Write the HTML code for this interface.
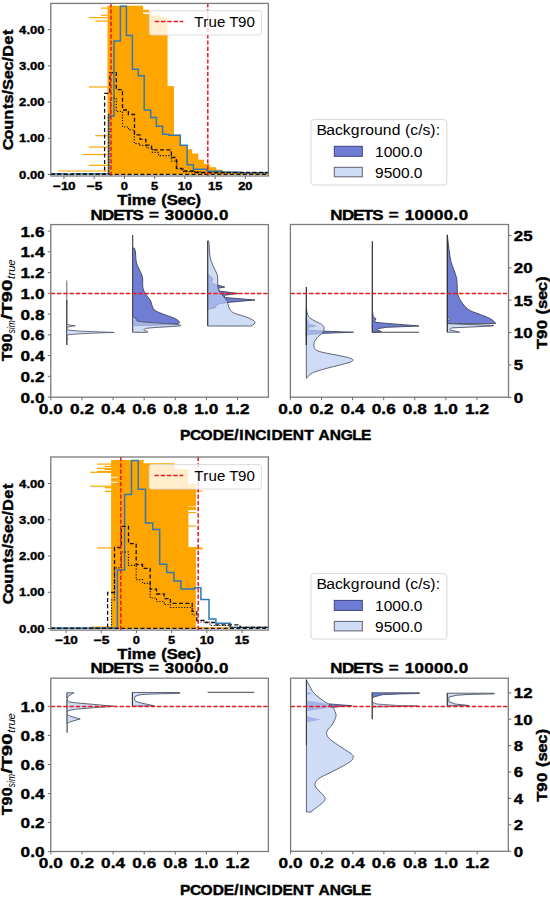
<!DOCTYPE html>
<html><head><meta charset="utf-8"><style>
html,body{margin:0;padding:0;background:#fff;}
svg{display:block;}
text{font-family:"Liberation Sans",sans-serif;}
</style></head><body>
<svg width="550" height="898" viewBox="0 0 550 898">
<rect x="0" y="0" width="550" height="898" fill="#fff"/>
<g id="h1">
<path d="M107.50,174.80 L107.50,5.80 L143.10,5.80 L143.10,9.80 L149.20,9.80 L149.20,15.50 L161.00,15.50 L161.00,17.20 L167.60,17.20 L167.60,86.00 L174.00,86.00 L174.00,134.50 L180.30,134.50 L180.30,145.00 L186.80,145.00 L186.80,149.20 L192.20,149.20 L192.20,153.60 L198.30,153.60 L198.30,159.80 L204.00,159.80 L204.00,164.00 L209.70,164.00 L209.70,167.20 L216.30,167.20 L216.30,169.70 L222.00,169.70 L222.00,171.30 L228.00,171.30 L228.00,172.30 L240.00,172.30 L240.00,173.30 L268.40,173.30 L268.40,174.80 Z" fill="#ffa500" stroke="none" stroke-width="1"/>
<rect x="143.10" y="12.40" width="6.10" height="1.60" fill="#fff"/>
<line x1="101.00" y1="8.10" x2="107.60" y2="8.10" stroke="#ffa500" stroke-width="1.2"/>
<line x1="101.00" y1="15.30" x2="107.60" y2="15.30" stroke="#ffa500" stroke-width="1.2"/>
<line x1="89.20" y1="17.60" x2="107.60" y2="17.60" stroke="#ffa500" stroke-width="1.2"/>
<line x1="95.40" y1="21.10" x2="107.60" y2="21.10" stroke="#ffa500" stroke-width="1.2"/>
<line x1="88.80" y1="87.00" x2="107.60" y2="87.00" stroke="#ffa500" stroke-width="1.2"/>
<line x1="95.20" y1="135.70" x2="107.60" y2="135.70" stroke="#ffa500" stroke-width="1.2"/>
<line x1="88.80" y1="147.10" x2="107.60" y2="147.10" stroke="#ffa500" stroke-width="1.2"/>
<line x1="82.80" y1="154.50" x2="107.60" y2="154.50" stroke="#ffa500" stroke-width="1.2"/>
<line x1="88.80" y1="165.30" x2="107.60" y2="165.30" stroke="#ffa500" stroke-width="1.2"/>
<line x1="58.30" y1="171.00" x2="107.60" y2="171.00" stroke="#ffa500" stroke-width="1.2"/>
<path d="M50.80,173.80 L66.50,173.80 L66.50,174.60 L72.30,174.60 L72.30,173.80 L108.60,173.80 L108.60,116.00 L114.00,116.00 L114.00,40.90 L120.40,40.90 L120.40,6.30 L126.40,6.30 L126.40,35.60 L132.40,35.60 L132.40,69.20 L138.30,69.20 L138.30,75.80 L144.20,75.80 L144.20,110.00 L150.70,110.00 L150.70,117.50 L156.40,117.50 L156.40,126.20 L162.60,126.20 L162.60,134.30 L168.80,134.30 L168.80,135.30 L180.30,135.30 L180.30,145.20 L187.10,145.20 L187.10,164.70 L193.40,164.70 L193.40,169.30 L207.30,169.30 L207.30,171.30 L222.00,171.30 L222.00,172.30 L240.00,172.30 L240.00,172.80 L268.40,172.80" fill="none" stroke="#2f7ab3" stroke-width="1.5" stroke-linejoin="miter"/>
<path d="M50.80,174.20 L104.60,174.20 L104.60,93.40 L109.90,93.40 L109.90,72.60 L116.30,72.60 L116.30,89.60 L122.50,89.60 L122.50,110.00 L128.40,110.00 L128.40,114.50 L134.50,114.50 L134.50,134.90 L140.00,134.90 L140.00,139.30 L145.80,139.30 L145.80,145.10 L151.60,145.10 L151.60,149.80 L171.30,149.80 L171.30,157.50 L176.40,157.50 L176.40,168.40 L182.00,168.40 L182.00,171.00 L195.00,171.00 L195.00,172.50 L268.40,172.50" fill="none" stroke="#111" stroke-width="1.3" stroke-dasharray="4 2.4"/>
<path d="M108.80,174.20 L108.80,114.40 L110.50,114.40 L110.50,98.00 L116.30,98.00 L116.30,111.50 L122.50,111.50 L122.50,127.00 L128.50,127.00 L128.50,129.80 L134.30,129.80 L134.30,143.60 L140.00,143.60 L140.00,145.30 L146.60,145.30 L146.60,148.00 L152.40,148.00 L152.40,152.40 L158.50,152.40 L158.50,155.60 L171.30,155.60 L171.30,161.00 L177.00,161.00 L177.00,169.00 L183.00,169.00 L183.00,171.60 L200.00,171.60 L200.00,173.00 L268.40,173.00" fill="none" stroke="#111" stroke-width="1.2" stroke-dasharray="1.2 1.6"/>
<line x1="50.80" y1="174.40" x2="268.40" y2="174.40" stroke="#111" stroke-width="1.3" stroke-dasharray="4 2.4"/>
<line x1="111.00" y1="176.00" x2="111.00" y2="3.40" stroke="#f0141e" stroke-width="1.5" stroke-dasharray="4.35 1.9"/>
<line x1="207.80" y1="176.00" x2="207.80" y2="3.40" stroke="#f0141e" stroke-width="1.5" stroke-dasharray="4.35 1.9"/>
<rect x="149.4" y="10.7" width="112.2" height="24.2" rx="2.5" fill="#fff" fill-opacity="0.8" stroke="#d8d8d8" stroke-width="0.9"/>
<line x1="154.80" y1="21.60" x2="183.30" y2="21.60" stroke="#f0141e" stroke-width="1.5" stroke-dasharray="4.35 1.9"/>
<text transform="translate(194.70,26.70) scale(1.0456,1)" x="-0.46 8.13 13.26 21.31 29.34 32.93 41.36 49.56" y="0" font-size="14.41" font-weight="normal" fill="#000">True T90</text>
</g>
<rect x="50.80" y="3.40" width="217.60" height="172.60" fill="none" stroke="#7b7b7b" stroke-width="1.3"/>
<line x1="63.96" y1="176.00" x2="63.96" y2="179.00" stroke="#6a6a6a" stroke-width="1"/>
<text transform="translate(63.96,190.40) scale(1.2407,1)" x="-8.96 -2.45 3.33" y="0" font-size="10.91" font-weight="bold" fill="#000" stroke="#000" stroke-width="0.363">−10</text>
<line x1="94.20" y1="176.00" x2="94.20" y2="179.00" stroke="#6a6a6a" stroke-width="1"/>
<text transform="translate(94.20,190.40) scale(1.2698,1)" x="-6.01 0.36" y="0" font-size="10.91" font-weight="bold" fill="#000" stroke="#000" stroke-width="0.354">−5</text>
<line x1="124.43" y1="176.00" x2="124.43" y2="179.00" stroke="#6a6a6a" stroke-width="1"/>
<text transform="translate(124.43,190.40) scale(1.1811,1)" x="-3.03" y="0" font-size="10.91" font-weight="bold" fill="#000" stroke="#000" stroke-width="0.381">0</text>
<line x1="154.67" y1="176.00" x2="154.67" y2="179.00" stroke="#6a6a6a" stroke-width="1"/>
<text transform="translate(154.67,190.40) scale(1.1811,1)" x="-3.03" y="0" font-size="10.91" font-weight="bold" fill="#000" stroke="#000" stroke-width="0.381">5</text>
<line x1="184.90" y1="176.00" x2="184.90" y2="179.00" stroke="#6a6a6a" stroke-width="1"/>
<text transform="translate(184.90,190.40) scale(1.1811,1)" x="-6.07 0.00" y="0" font-size="10.91" font-weight="bold" fill="#000" stroke="#000" stroke-width="0.381">10</text>
<line x1="215.13" y1="176.00" x2="215.13" y2="179.00" stroke="#6a6a6a" stroke-width="1"/>
<text transform="translate(215.13,190.40) scale(1.1811,1)" x="-6.07 0.00" y="0" font-size="10.91" font-weight="bold" fill="#000" stroke="#000" stroke-width="0.381">15</text>
<line x1="245.37" y1="176.00" x2="245.37" y2="179.00" stroke="#6a6a6a" stroke-width="1"/>
<text transform="translate(245.37,190.40) scale(1.1811,1)" x="-6.07 0.00" y="0" font-size="10.91" font-weight="bold" fill="#000" stroke="#000" stroke-width="0.381">20</text>
<line x1="47.80" y1="174.45" x2="50.80" y2="174.45" stroke="#6a6a6a" stroke-width="1"/>
<text transform="translate(44.50,178.65) scale(1.1972,1)" x="-21.28 -15.13 -12.02 -6.03" y="0" font-size="10.91" font-weight="bold" fill="#000" stroke="#000" stroke-width="0.376">0.00</text>
<line x1="47.80" y1="138.25" x2="50.80" y2="138.25" stroke="#6a6a6a" stroke-width="1"/>
<text transform="translate(44.50,142.45) scale(1.1972,1)" x="-21.28 -15.13 -12.02 -6.03" y="0" font-size="10.91" font-weight="bold" fill="#000" stroke="#000" stroke-width="0.376">1.00</text>
<line x1="47.80" y1="102.05" x2="50.80" y2="102.05" stroke="#6a6a6a" stroke-width="1"/>
<text transform="translate(44.50,106.25) scale(1.1972,1)" x="-21.28 -15.13 -12.02 -6.03" y="0" font-size="10.91" font-weight="bold" fill="#000" stroke="#000" stroke-width="0.376">2.00</text>
<line x1="47.80" y1="65.85" x2="50.80" y2="65.85" stroke="#6a6a6a" stroke-width="1"/>
<text transform="translate(44.50,70.05) scale(1.1972,1)" x="-21.28 -15.13 -12.02 -6.03" y="0" font-size="10.91" font-weight="bold" fill="#000" stroke="#000" stroke-width="0.376">3.00</text>
<line x1="47.80" y1="29.65" x2="50.80" y2="29.65" stroke="#6a6a6a" stroke-width="1"/>
<text transform="translate(44.50,33.85) scale(1.1972,1)" x="-21.28 -15.13 -12.02 -6.03" y="0" font-size="10.91" font-weight="bold" fill="#000" stroke="#000" stroke-width="0.376">4.00</text>
<text transform="translate(159.60,205.00) scale(1.1233,1)" x="-37.66 -28.80 -24.70 -11.52 -3.06 1.55 6.41 15.94 23.86 32.06" y="0" font-size="14.83" font-weight="bold" fill="#000" stroke="#000" stroke-width="0.401">Time (Sec)</text>
<text transform="translate(12.80,89.20) rotate(-90) scale(1.1014,1)" x="-55.51 -45.65 -36.76 -27.71 -18.08 -12.92 -4.76 -0.75 8.96 17.04 25.19 29.49 40.30 49.31" y="0" font-size="14.83" font-weight="bold" fill="#000" stroke="#000" stroke-width="0.409">Counts/Sec/Det</text>
<g id="h2">
<path d="M90.70,628.90 L90.70,626.60 L111.10,626.60 L111.10,460.10 L143.60,460.10 L143.60,463.20 L174.50,463.20 L174.50,469.00 L188.40,469.00 L188.40,484.00 L195.90,484.00 L195.90,628.90 Z" fill="#ffa500" stroke="none" stroke-width="1"/>
<rect x="188.40" y="510.00" width="7.60" height="37.00" fill="#fff"/>
<line x1="188.40" y1="512.50" x2="195.90" y2="512.50" stroke="#ffa500" stroke-width="1.2"/>
<line x1="188.40" y1="526.00" x2="195.90" y2="526.00" stroke="#ffa500" stroke-width="1.2"/>
<line x1="111.10" y1="477.30" x2="118.00" y2="477.30" stroke="#ffe9c0" stroke-width="1.2"/>
<line x1="195.90" y1="491.10" x2="202.70" y2="491.10" stroke="#ffa500" stroke-width="1.0"/>
<line x1="195.90" y1="548.50" x2="202.70" y2="548.50" stroke="#ffa500" stroke-width="2.0"/>
<line x1="188.40" y1="506.40" x2="195.90" y2="506.40" stroke="#ffd98a" stroke-width="1.0"/>
<line x1="111.10" y1="482.30" x2="118.00" y2="482.30" stroke="#ffe9c0" stroke-width="1.2"/>
<line x1="97.10" y1="464.10" x2="111.20" y2="464.10" stroke="#ffa500" stroke-width="1.2"/>
<line x1="104.50" y1="466.40" x2="111.20" y2="466.40" stroke="#ffa500" stroke-width="1.2"/>
<line x1="97.10" y1="468.40" x2="111.20" y2="468.40" stroke="#ffa500" stroke-width="1.2"/>
<line x1="104.50" y1="469.40" x2="111.20" y2="469.40" stroke="#ffa500" stroke-width="1.2"/>
<line x1="97.10" y1="471.40" x2="111.20" y2="471.40" stroke="#ffa500" stroke-width="1.2"/>
<line x1="90.20" y1="472.30" x2="111.20" y2="472.30" stroke="#ffa500" stroke-width="1.2"/>
<line x1="90.20" y1="486.20" x2="111.20" y2="486.20" stroke="#ffa500" stroke-width="1.2"/>
<line x1="104.50" y1="487.70" x2="111.20" y2="487.70" stroke="#ffa500" stroke-width="1.2"/>
<line x1="104.50" y1="491.40" x2="111.20" y2="491.40" stroke="#ffa500" stroke-width="1.2"/>
<line x1="96.80" y1="547.90" x2="111.20" y2="547.90" stroke="#ffa500" stroke-width="1.2"/>
<path d="M50.80,628.00 L117.40,628.00 L117.40,569.90 L124.60,569.90 L124.60,494.60 L131.50,494.60 L131.50,460.40 L138.20,460.40 L138.20,489.20 L145.50,489.20 L145.50,522.90 L152.70,522.90 L152.70,529.60 L159.70,529.60 L159.70,564.30 L166.70,564.30 L166.70,572.50 L173.90,572.50 L173.90,580.90 L181.00,580.90 L181.00,589.00 L194.50,589.00 L194.50,587.80 L200.90,587.80 L200.90,599.40 L209.00,599.40 L209.00,619.10 L215.90,619.10 L215.90,623.20 L230.40,623.20 L230.40,627.60 L268.40,627.60" fill="none" stroke="#2f7ab3" stroke-width="1.5"/>
<path d="M50.80,628.30 L107.60,628.30 L107.60,592.50 L114.50,592.50 L114.50,547.50 L121.30,547.50 L121.30,526.30 L128.50,526.30 L128.50,543.70 L136.20,543.70 L136.20,564.50 L142.50,564.50 L142.50,568.30 L150.20,568.30 L150.20,589.20 L156.50,589.20 L156.50,594.00 L164.20,594.00 L164.20,598.60 L170.40,598.60 L170.40,603.30 L192.20,603.30 L192.20,611.40 L196.80,611.40 L196.80,620.40 L204.00,620.40 L204.00,622.50 L215.00,622.50 L215.00,624.80 L240.00,624.80 L240.00,627.40 L268.40,627.40" fill="none" stroke="#111" stroke-width="1.3" stroke-dasharray="4 2.4"/>
<path d="M111.50,628.30 L111.50,600.00 L114.50,600.00 L114.50,567.90 L121.30,567.90 L121.30,552.00 L128.50,552.00 L128.50,565.40 L136.20,565.40 L136.20,579.70 L142.50,579.70 L142.50,583.30 L150.20,583.30 L150.20,598.00 L156.50,598.00 L156.50,601.50 L164.20,601.50 L164.20,604.50 L170.40,604.50 L170.40,607.50 L192.20,607.50 L192.20,615.00 L196.80,615.00 L196.80,622.00 L210.00,622.00 L210.00,625.50 L230.00,625.50 L230.00,627.30 L268.40,627.30" fill="none" stroke="#111" stroke-width="1.2" stroke-dasharray="1.2 1.6"/>
<line x1="196.00" y1="627.90" x2="230.00" y2="627.90" stroke="#ffa500" stroke-width="1.5"/>
<line x1="50.80" y1="628.40" x2="268.40" y2="628.40" stroke="#111" stroke-width="1.3" stroke-dasharray="4 2.4"/>
<line x1="120.80" y1="630.10" x2="120.80" y2="457.00" stroke="#f0141e" stroke-width="1.5" stroke-dasharray="4.35 1.9"/>
<line x1="198.20" y1="630.10" x2="198.20" y2="457.00" stroke="#f0141e" stroke-width="1.5" stroke-dasharray="4.35 1.9"/>
<rect x="149.2" y="464.6" width="112.2" height="24.4" rx="2.5" fill="#fff" fill-opacity="0.8" stroke="#d8d8d8" stroke-width="0.9"/>
<line x1="154.50" y1="475.50" x2="183.30" y2="475.50" stroke="#f0141e" stroke-width="1.5" stroke-dasharray="4.35 1.9"/>
<text transform="translate(194.70,480.60) scale(1.0456,1)" x="-0.46 8.13 13.26 21.31 29.34 32.93 41.36 49.56" y="0" font-size="14.41" font-weight="normal" fill="#000">True T90</text>
</g>
<rect x="50.80" y="457.00" width="217.60" height="173.10" fill="none" stroke="#7b7b7b" stroke-width="1.3"/>
<line x1="66.03" y1="630.10" x2="66.03" y2="633.10" stroke="#6a6a6a" stroke-width="1"/>
<text transform="translate(66.03,644.30) scale(1.2407,1)" x="-8.96 -2.45 3.33" y="0" font-size="10.91" font-weight="bold" fill="#000" stroke="#000" stroke-width="0.363">−10</text>
<line x1="101.23" y1="630.10" x2="101.23" y2="633.10" stroke="#6a6a6a" stroke-width="1"/>
<text transform="translate(101.23,644.30) scale(1.2698,1)" x="-6.01 0.36" y="0" font-size="10.91" font-weight="bold" fill="#000" stroke="#000" stroke-width="0.354">−5</text>
<line x1="136.43" y1="630.10" x2="136.43" y2="633.10" stroke="#6a6a6a" stroke-width="1"/>
<text transform="translate(136.43,644.30) scale(1.1811,1)" x="-3.03" y="0" font-size="10.91" font-weight="bold" fill="#000" stroke="#000" stroke-width="0.381">0</text>
<line x1="171.63" y1="630.10" x2="171.63" y2="633.10" stroke="#6a6a6a" stroke-width="1"/>
<text transform="translate(171.63,644.30) scale(1.1811,1)" x="-3.03" y="0" font-size="10.91" font-weight="bold" fill="#000" stroke="#000" stroke-width="0.381">5</text>
<line x1="206.83" y1="630.10" x2="206.83" y2="633.10" stroke="#6a6a6a" stroke-width="1"/>
<text transform="translate(206.83,644.30) scale(1.1811,1)" x="-6.07 0.00" y="0" font-size="10.91" font-weight="bold" fill="#000" stroke="#000" stroke-width="0.381">10</text>
<line x1="242.03" y1="630.10" x2="242.03" y2="633.10" stroke="#6a6a6a" stroke-width="1"/>
<text transform="translate(242.03,644.30) scale(1.1811,1)" x="-6.07 0.00" y="0" font-size="10.91" font-weight="bold" fill="#000" stroke="#000" stroke-width="0.381">15</text>
<line x1="47.80" y1="628.50" x2="50.80" y2="628.50" stroke="#6a6a6a" stroke-width="1"/>
<text transform="translate(44.50,632.70) scale(1.1972,1)" x="-21.28 -15.13 -12.02 -6.03" y="0" font-size="10.91" font-weight="bold" fill="#000" stroke="#000" stroke-width="0.376">0.00</text>
<line x1="47.80" y1="592.25" x2="50.80" y2="592.25" stroke="#6a6a6a" stroke-width="1"/>
<text transform="translate(44.50,596.45) scale(1.1972,1)" x="-21.28 -15.13 -12.02 -6.03" y="0" font-size="10.91" font-weight="bold" fill="#000" stroke="#000" stroke-width="0.376">1.00</text>
<line x1="47.80" y1="556.00" x2="50.80" y2="556.00" stroke="#6a6a6a" stroke-width="1"/>
<text transform="translate(44.50,560.20) scale(1.1972,1)" x="-21.28 -15.13 -12.02 -6.03" y="0" font-size="10.91" font-weight="bold" fill="#000" stroke="#000" stroke-width="0.376">2.00</text>
<line x1="47.80" y1="519.75" x2="50.80" y2="519.75" stroke="#6a6a6a" stroke-width="1"/>
<text transform="translate(44.50,523.95) scale(1.1972,1)" x="-21.28 -15.13 -12.02 -6.03" y="0" font-size="10.91" font-weight="bold" fill="#000" stroke="#000" stroke-width="0.376">3.00</text>
<line x1="47.80" y1="483.50" x2="50.80" y2="483.50" stroke="#6a6a6a" stroke-width="1"/>
<text transform="translate(44.50,487.70) scale(1.1972,1)" x="-21.28 -15.13 -12.02 -6.03" y="0" font-size="10.91" font-weight="bold" fill="#000" stroke="#000" stroke-width="0.376">4.00</text>
<text transform="translate(159.60,659.30) scale(1.1233,1)" x="-37.66 -28.80 -24.70 -11.52 -3.06 1.55 6.41 15.94 23.86 32.06" y="0" font-size="14.83" font-weight="bold" fill="#000" stroke="#000" stroke-width="0.401">Time (Sec)</text>
<text transform="translate(12.80,543.20) rotate(-90) scale(1.1014,1)" x="-55.51 -45.65 -36.76 -27.71 -18.08 -12.92 -4.76 -0.75 8.96 17.04 25.19 29.49 40.30 49.31" y="0" font-size="14.83" font-weight="bold" fill="#000" stroke="#000" stroke-width="0.409">Counts/Sec/Det</text>
<rect x="311" y="119.60" width="135.9" height="65.4" rx="3" fill="#fff" stroke="#d8d8d8" stroke-width="1"/>
<text transform="translate(316.90,135.10) scale(1.0607,1)" x="-0.43 8.94 17.01 24.44 32.01 40.55 45.63 53.83 62.17 70.52 78.86 83.11 88.06 95.54 99.54 106.78 111.97" y="0" font-size="14.83" font-weight="normal" fill="#000">Background (c/s):</text>
<rect x="334.3" y="146.30" width="28" height="10" fill="#6f7dd5" stroke="#3c4380" stroke-width="1"/>
<rect x="334.3" y="167.30" width="28" height="9.5" fill="#cfdcf5" stroke="#606070" stroke-width="1"/>
<text transform="translate(375.00,157.10) scale(1.0469,1)" x="-0.00 8.25 16.50 24.75 33.00 37.12" y="0" font-size="14.83" font-weight="normal" fill="#000">1000.0</text>
<text transform="translate(375.00,177.50) scale(1.0469,1)" x="-0.00 8.25 16.50 24.75 33.00 37.12" y="0" font-size="14.83" font-weight="normal" fill="#000">9500.0</text>
<rect x="311" y="573.70" width="135.9" height="65.4" rx="3" fill="#fff" stroke="#d8d8d8" stroke-width="1"/>
<text transform="translate(316.90,589.20) scale(1.0607,1)" x="-0.43 8.94 17.01 24.44 32.01 40.55 45.63 53.83 62.17 70.52 78.86 83.11 88.06 95.54 99.54 106.78 111.97" y="0" font-size="14.83" font-weight="normal" fill="#000">Background (c/s):</text>
<rect x="334.3" y="600.40" width="28" height="10" fill="#6f7dd5" stroke="#3c4380" stroke-width="1"/>
<rect x="334.3" y="621.40" width="28" height="9.5" fill="#cfdcf5" stroke="#606070" stroke-width="1"/>
<text transform="translate(375.00,611.20) scale(1.0469,1)" x="-0.00 8.25 16.50 24.75 33.00 37.12" y="0" font-size="14.83" font-weight="normal" fill="#000">1000.0</text>
<text transform="translate(375.00,631.60) scale(1.0469,1)" x="-0.00 8.25 16.50 24.75 33.00 37.12" y="0" font-size="14.83" font-weight="normal" fill="#000">9500.0</text>
<g id="b1">
<line x1="66.80" y1="280.40" x2="66.80" y2="300.00" stroke="#6a6a6a" stroke-width="1.0"/>
<line x1="66.80" y1="300.00" x2="66.80" y2="345.10" stroke="#333" stroke-width="1.3"/>
<path d="M66.80,324.30 L70.00,325.10 L75.30,325.80 L70.00,326.50 L66.80,327.40 Z" fill="#cfdcf5" stroke="#4f5566" stroke-width="0.8" stroke-linejoin="round"/>
<path d="M66.80,329.40 L69.00,330.20 L80.00,331.10 L100.00,331.90 L114.20,332.40 L100.00,332.90 L80.00,333.80 L69.00,334.70 L66.80,335.30 Z" fill="#cfdcf5" stroke="#4f5566" stroke-width="0.8" stroke-linejoin="round"/>
<path d="M66.80,337.40 L68.20,338.70 L66.80,340.20 Z" fill="#cfdcf5" stroke="#4f5566" stroke-width="0.7" stroke-linejoin="round"/>
<line x1="132.70" y1="234.90" x2="132.70" y2="332.20" stroke="#3a3a3a" stroke-width="1.1"/>
<path d="M132.70,248.10 C133.00,248.15 134.05,247.75 134.50,248.40 C134.95,249.05 135.10,249.77 135.40,252.00 C135.70,254.23 135.78,259.13 136.30,261.80 C136.82,264.47 137.63,265.95 138.50,268.00 C139.37,270.05 140.80,272.27 141.50,274.10 C142.20,275.93 142.50,276.97 142.70,279.00 C142.90,281.03 142.48,284.27 142.70,286.30 C142.92,288.33 143.18,289.47 144.00,291.20 C144.82,292.93 146.48,295.07 147.60,296.70 C148.72,298.33 149.88,299.27 150.70,301.00 C151.52,302.73 151.68,305.47 152.50,307.10 C153.32,308.73 153.65,309.57 155.60,310.80 C157.55,312.03 161.13,313.28 164.20,314.50 C167.27,315.72 171.55,316.98 174.00,318.10 C176.45,319.22 178.08,320.38 178.90,321.20 C179.72,322.02 179.72,322.48 178.90,323.00 C178.08,323.52 177.15,323.97 174.00,324.30 C170.85,324.63 165.67,324.82 160.00,325.00 C154.33,325.18 144.55,325.32 140.00,325.40 C135.45,325.48 133.92,325.48 132.70,325.50 Z" fill="#6f7dd5" stroke="#3d4150" stroke-width="0.9" stroke-linejoin="round"/>
<path d="M132.70,315.70 C132.85,315.90 132.95,316.28 133.60,316.90 C134.25,317.52 135.88,318.68 136.60,319.40 C137.32,320.12 135.67,320.68 137.90,321.20 C140.13,321.72 144.65,322.07 150.00,322.50 C155.35,322.93 165.08,323.40 170.00,323.80 C174.92,324.20 178.23,324.52 179.50,324.90 C180.77,325.28 182.60,325.58 177.60,326.10 C172.60,326.62 155.10,327.38 149.50,328.00 C143.90,328.62 144.32,329.10 144.00,329.80 C143.68,330.50 149.48,331.80 147.60,332.20 C145.72,332.60 135.18,332.20 132.70,332.20 Z" fill="#bacdf1" stroke="#4f5566" stroke-width="0.9" fill-opacity="0.7" stroke-linejoin="round"/>
<path d="M207.70,274.00 L213.00,278.70 L211.20,282.30 L214.50,284.60 L217.70,285.20 L224.80,287.00 L218.30,288.20 L219.50,291.10 L238.40,293.50 L223.60,295.30 L225.40,297.60 L255.00,300.00 L227.80,302.40 L220.00,303.50 L215.40,305.90 L216.00,307.50 L207.70,309.50 Z" fill="#6f7dd5" stroke="#3d4150" stroke-width="0.9" stroke-linejoin="round"/>
<path d="M207.70,240.90 C207.90,241.10 208.52,239.53 208.90,242.10 C209.28,244.67 209.32,252.37 210.00,256.30 C210.68,260.23 211.92,262.95 213.00,265.70 C214.08,268.45 215.72,270.82 216.50,272.80 C217.28,274.78 217.50,275.63 217.70,277.60 C217.90,279.57 217.60,282.73 217.70,284.60 C217.80,286.47 218.00,287.62 218.30,288.80 C218.60,289.98 218.80,290.62 219.50,291.70 C220.20,292.78 221.52,294.12 222.50,295.30 C223.48,296.48 224.58,297.72 225.40,298.80 C226.22,299.88 226.90,300.62 227.40,301.80 C227.90,302.98 227.85,304.42 228.40,305.90 C228.95,307.38 229.52,309.42 230.70,310.70 C231.88,311.98 233.13,312.62 235.50,313.60 C237.87,314.58 242.15,315.62 244.90,316.60 C247.65,317.58 250.32,318.52 252.00,319.50 C253.68,320.48 255.00,321.52 255.00,322.50 C255.00,323.48 253.28,324.82 252.00,325.40 C250.72,325.98 254.68,325.90 247.30,326.00 C239.92,326.10 214.30,326.00 207.70,326.00 Z" fill="#bacdf1" stroke="#4f5566" stroke-width="0.9" fill-opacity="0.7" stroke-linejoin="round"/>
<line x1="207.70" y1="240.90" x2="207.70" y2="326.00" stroke="#3a3a3a" stroke-width="1.0"/>
</g>
<g id="b2">
<path d="M306.30,318.00 L309.00,324.50 L315.70,325.80 L309.00,327.20 L307.50,330.00 L322.20,331.10 L353.60,332.20 L322.20,333.40 L307.50,334.50 L306.30,337.00 Z" fill="#6f7dd5" stroke="#3d4150" stroke-width="0.8" stroke-linejoin="round"/>
<path d="M306.30,308.40 C306.50,309.38 306.92,312.73 307.50,314.30 C308.08,315.87 308.43,316.62 309.80,317.80 C311.17,318.98 313.73,320.32 315.70,321.40 C317.67,322.48 320.22,323.32 321.60,324.30 C322.98,325.28 323.63,326.32 324.00,327.30 C324.37,328.28 324.10,329.22 323.80,330.20 C323.50,331.18 323.15,332.12 322.20,333.20 C321.25,334.28 319.38,335.32 318.10,336.70 C316.82,338.08 315.18,339.92 314.50,341.50 C313.82,343.08 313.80,344.83 314.00,346.20 C314.20,347.57 314.43,348.72 315.70,349.70 C316.97,350.68 318.63,351.30 321.60,352.10 C324.57,352.90 329.17,353.62 333.50,354.50 C337.83,355.38 344.35,356.52 347.60,357.40 C350.85,358.28 352.60,359.00 353.00,359.80 C353.40,360.60 352.27,361.32 350.00,362.20 C347.73,363.08 343.13,364.12 339.40,365.10 C335.67,366.08 331.55,367.02 327.60,368.10 C323.65,369.18 318.67,370.52 315.70,371.60 C312.73,372.68 311.27,373.52 309.80,374.60 C308.33,375.68 307.48,377.52 306.90,378.10 C306.32,378.68 306.40,378.10 306.30,378.10 Z" fill="#bacdf1" stroke="#4f5566" stroke-width="0.9" fill-opacity="0.7" stroke-linejoin="round"/>
<line x1="306.30" y1="287.10" x2="306.30" y2="345.00" stroke="#2a2a2a" stroke-width="1.2"/>
<line x1="372.30" y1="241.20" x2="372.30" y2="332.50" stroke="#2a2a2a" stroke-width="1.2"/>
<line x1="372.30" y1="332.30" x2="419.00" y2="332.30" stroke="#444" stroke-width="1.1"/>
<path d="M372.40,310.90 L373.20,316.40 L375.90,319.10 L374.80,320.70 L375.90,322.40 L386.80,323.40 L419.00,326.00 L386.80,327.30 L378.10,328.60 L377.00,329.70 L381.40,331.60 L372.40,332.30 Z" fill="#6f7dd5" stroke="#3d4150" stroke-width="0.9" stroke-linejoin="round"/>
<path d="M447.30,234.90 C447.42,235.92 447.68,238.35 448.00,241.00 C448.32,243.65 448.70,247.33 449.20,250.80 C449.70,254.27 450.18,258.53 451.00,261.80 C451.82,265.07 453.18,267.75 454.10,270.40 C455.02,273.05 456.00,275.45 456.50,277.70 C457.00,279.95 456.90,281.23 457.10,283.90 C457.30,286.57 457.18,291.05 457.70,293.70 C458.22,296.35 459.07,297.77 460.20,299.80 C461.33,301.83 462.77,304.07 464.50,305.90 C466.23,307.73 467.95,309.37 470.60,310.80 C473.25,312.23 477.33,313.28 480.40,314.50 C483.47,315.72 486.87,317.08 489.00,318.10 C491.13,319.12 492.38,319.88 493.20,320.60 C494.02,321.32 494.10,321.90 493.90,322.40 C493.70,322.90 499.77,323.40 492.00,323.60 C484.23,323.80 454.75,323.60 447.30,323.60 Z" fill="#6f7dd5" stroke="#3d4150" stroke-width="0.9" stroke-linejoin="round"/>
<path d="M447.30,317.50 L450.50,318.50 L451.00,319.50 L447.30,320.60 Z" fill="#bacdf1" stroke="#4f5566" stroke-width="0.6" fill-opacity="0.7" stroke-linejoin="round"/>
<path d="M447.30,323.60 L493.90,325.50 L491.40,326.10 L451.50,327.90 L449.70,329.80 L459.60,332.20 L447.30,332.20 Z" fill="#bacdf1" stroke="#4f5566" stroke-width="0.9" fill-opacity="0.7" stroke-linejoin="round"/>
<line x1="447.30" y1="234.90" x2="447.30" y2="332.20" stroke="#2a2a2a" stroke-width="1.0"/>
</g>
<g id="c1">
<line x1="67.10" y1="692.60" x2="67.10" y2="732.70" stroke="#3a3a3a" stroke-width="1.1"/>
<path d="M67.10,692.80 L74.00,692.80 L71.00,694.50 L68.20,696.40 L67.10,698.00 Z" fill="#cfdcf5" stroke="#4f5566" stroke-width="0.9" stroke-linejoin="round"/>
<path d="M67.10,700.20 L68.70,701.80 L76.40,702.90 L92.70,704.30 L113.40,706.20 L92.70,707.80 L76.40,709.10 L68.70,710.50 L67.10,712.20 Z" fill="#cfdcf5" stroke="#4f5566" stroke-width="0.9" stroke-linejoin="round"/>
<path d="M67.10,714.40 L69.80,716.00 L75.00,717.60 L80.20,719.00 L75.00,720.40 L69.80,722.00 L67.10,723.60 Z" fill="#cfdcf5" stroke="#4f5566" stroke-width="0.9" stroke-linejoin="round"/>
<path d="M132.40,692.50 L179.80,692.50 L179.80,693.30 L160.00,693.80 L145.00,694.30 L139.00,694.90 L135.20,696.50 L134.40,698.50 L134.60,700.20 L137.00,701.80 L142.00,703.20 L154.20,705.80 L132.40,706.20 Z" fill="#cfdcf5" stroke="#4f5566" stroke-width="0.9" stroke-linejoin="round"/>
<line x1="132.40" y1="692.30" x2="132.40" y2="706.30" stroke="#3a3a3a" stroke-width="1.0"/>
<line x1="207.60" y1="692.40" x2="254.30" y2="692.40" stroke="#6a6a6a" stroke-width="1.2"/>
</g>
<g id="c2">
<path d="M306.40,679.70 C307.00,680.87 308.70,684.42 310.00,686.70 C311.30,688.98 311.97,691.03 314.20,693.40 C316.43,695.77 320.47,698.82 323.40,700.90 C326.33,702.98 329.85,704.10 331.80,705.90 C333.75,707.70 334.42,709.88 335.10,711.70 C335.78,713.52 336.45,714.57 335.90,716.80 C335.35,719.03 333.18,722.88 331.80,725.10 C330.42,727.32 328.45,728.57 327.60,730.10 C326.75,731.63 326.28,732.77 326.70,734.30 C327.12,735.83 327.58,737.08 330.10,739.30 C332.62,741.52 338.18,745.10 341.80,747.60 C345.42,750.10 349.92,752.62 351.80,754.30 C353.68,755.98 353.38,756.45 353.10,757.70 C352.82,758.95 353.10,759.72 350.10,761.80 C347.10,763.88 340.10,767.55 335.10,770.20 C330.10,772.85 323.43,775.48 320.10,777.70 C316.77,779.92 315.67,781.70 315.10,783.50 C314.53,785.30 315.32,786.55 316.70,788.50 C318.08,790.45 322.00,793.38 323.40,795.20 C324.80,797.02 325.38,798.00 325.10,799.40 C324.82,800.80 323.93,801.65 321.70,803.60 C319.47,805.55 313.48,809.70 311.70,811.10 C309.92,812.50 311.88,811.85 311.00,812.00 C310.12,812.15 307.17,812.00 306.40,812.00 Z" fill="#bacdf1" stroke="#4f5566" stroke-width="0.9" fill-opacity="0.7" stroke-linejoin="round"/>
<path d="M306.50,692.10 C306.92,692.18 308.08,692.37 309.00,692.60 C309.92,692.83 312.00,693.20 312.00,693.50 C312.00,693.80 309.92,694.15 309.00,694.40 C308.08,694.65 306.92,694.90 306.50,695.00 Z" fill="#a3b3e8" stroke="none" stroke-width="1"/>
<path d="M306.50,700.80 C308.15,700.98 313.30,701.45 316.40,701.90 C319.50,702.35 322.93,703.08 325.10,703.50 C327.27,703.92 328.13,704.07 329.40,704.40 C330.67,704.73 332.70,705.07 332.70,705.50 C332.70,705.93 330.67,706.52 329.40,707.00 C328.13,707.48 327.27,707.98 325.10,708.40 C322.93,708.82 319.50,709.03 316.40,709.50 C313.30,709.97 308.15,710.92 306.50,711.20 Z" fill="#a3b3e8" stroke="none" stroke-width="1"/>
<path d="M306.50,715.50 C307.23,715.78 309.32,716.72 310.90,717.20 C312.48,717.68 314.37,718.03 316.00,718.40 C317.63,718.77 320.70,719.07 320.70,719.40 C320.70,719.73 317.63,720.05 316.00,720.40 C314.37,720.75 312.48,721.13 310.90,721.50 C309.32,721.87 307.23,722.42 306.50,722.60 Z" fill="#a3b3e8" stroke="none" stroke-width="1"/>
<path d="M329.40,703.90 L340.00,704.80 L352.30,705.70 L340.00,706.50 L332.70,707.30 L329.40,706.50 Z" fill="#6f7dd5" stroke="#3d4150" stroke-width="0.8" stroke-linejoin="round"/>
<line x1="306.40" y1="679.70" x2="306.40" y2="745.10" stroke="#3a3a3a" stroke-width="1.0"/>
<line x1="372.20" y1="692.60" x2="372.20" y2="719.30" stroke="#2a2a2a" stroke-width="1.2"/>
<path d="M372.20,692.80 L419.40,692.80 L419.40,693.50 L400.00,693.90 L382.40,694.70 L374.20,696.90 L372.80,698.00 Z" fill="#6f7dd5" stroke="#3d4150" stroke-width="0.8" stroke-linejoin="round"/>
<path d="M372.80,702.40 L376.90,704.00 L398.70,705.60 L418.30,706.00 L398.70,706.40 L376.90,706.80 L372.20,707.30 Z" fill="#bacdf1" stroke="#4f5566" stroke-width="0.8" fill-opacity="0.7" stroke-linejoin="round"/>
<path d="M447.30,693.20 L494.20,693.20 L494.20,693.90 L470.00,694.40 L457.00,695.20 L449.00,697.00 L448.80,701.50 L455.00,704.00 L469.10,705.50 L447.30,705.80 Z" fill="#cfdcf5" stroke="#4f5566" stroke-width="0.9" stroke-linejoin="round"/>
<line x1="447.30" y1="693.00" x2="447.30" y2="706.00" stroke="#3a3a3a" stroke-width="1.0"/>
</g>
<line x1="50.80" y1="293.40" x2="268.40" y2="293.40" stroke="#f0141e" stroke-width="1.5" stroke-dasharray="4.35 1.9"/>
<line x1="290.40" y1="293.40" x2="508.50" y2="293.40" stroke="#f0141e" stroke-width="1.5" stroke-dasharray="4.35 1.9"/>
<line x1="50.80" y1="706.40" x2="268.40" y2="706.40" stroke="#f0141e" stroke-width="1.5" stroke-dasharray="4.35 1.9"/>
<line x1="290.60" y1="706.40" x2="508.30" y2="706.40" stroke="#f0141e" stroke-width="1.5" stroke-dasharray="4.35 1.9"/>
<rect x="50.80" y="224.60" width="217.60" height="172.60" fill="none" stroke="#7b7b7b" stroke-width="1.3"/>
<rect x="290.40" y="224.50" width="218.10" height="172.70" fill="none" stroke="#7b7b7b" stroke-width="1.3"/>
<rect x="50.80" y="678.20" width="217.60" height="173.30" fill="none" stroke="#7b7b7b" stroke-width="1.3"/>
<rect x="290.60" y="678.20" width="217.70" height="173.10" fill="none" stroke="#7b7b7b" stroke-width="1.3"/>
<line x1="50.90" y1="397.20" x2="50.90" y2="400.20" stroke="#6a6a6a" stroke-width="1"/>
<text transform="translate(50.90,413.90) scale(1.2037,1)" x="-10.02 -1.99 2.06" y="0" font-size="14.30" font-weight="bold" fill="#000" stroke="#000" stroke-width="0.374">0.0</text>
<line x1="82.00" y1="397.20" x2="82.00" y2="400.20" stroke="#6a6a6a" stroke-width="1"/>
<text transform="translate(82.00,413.90) scale(1.2037,1)" x="-10.02 -1.99 2.06" y="0" font-size="14.30" font-weight="bold" fill="#000" stroke="#000" stroke-width="0.374">0.2</text>
<line x1="113.10" y1="397.20" x2="113.10" y2="400.20" stroke="#6a6a6a" stroke-width="1"/>
<text transform="translate(113.10,413.90) scale(1.2037,1)" x="-10.02 -1.99 2.06" y="0" font-size="14.30" font-weight="bold" fill="#000" stroke="#000" stroke-width="0.374">0.4</text>
<line x1="144.20" y1="397.20" x2="144.20" y2="400.20" stroke="#6a6a6a" stroke-width="1"/>
<text transform="translate(144.20,413.90) scale(1.2037,1)" x="-10.02 -1.99 2.06" y="0" font-size="14.30" font-weight="bold" fill="#000" stroke="#000" stroke-width="0.374">0.6</text>
<line x1="175.30" y1="397.20" x2="175.30" y2="400.20" stroke="#6a6a6a" stroke-width="1"/>
<text transform="translate(175.30,413.90) scale(1.2037,1)" x="-10.02 -1.99 2.06" y="0" font-size="14.30" font-weight="bold" fill="#000" stroke="#000" stroke-width="0.374">0.8</text>
<line x1="206.40" y1="397.20" x2="206.40" y2="400.20" stroke="#6a6a6a" stroke-width="1"/>
<text transform="translate(206.40,413.90) scale(1.2037,1)" x="-10.02 -1.99 2.06" y="0" font-size="14.30" font-weight="bold" fill="#000" stroke="#000" stroke-width="0.374">1.0</text>
<line x1="237.50" y1="397.20" x2="237.50" y2="400.20" stroke="#6a6a6a" stroke-width="1"/>
<text transform="translate(237.50,413.90) scale(1.2037,1)" x="-10.02 -1.99 2.06" y="0" font-size="14.30" font-weight="bold" fill="#000" stroke="#000" stroke-width="0.374">1.2</text>
<line x1="290.40" y1="397.20" x2="290.40" y2="400.20" stroke="#6a6a6a" stroke-width="1"/>
<text transform="translate(290.40,413.90) scale(1.2037,1)" x="-10.02 -1.99 2.06" y="0" font-size="14.30" font-weight="bold" fill="#000" stroke="#000" stroke-width="0.374">0.0</text>
<line x1="321.50" y1="397.20" x2="321.50" y2="400.20" stroke="#6a6a6a" stroke-width="1"/>
<text transform="translate(321.50,413.90) scale(1.2037,1)" x="-10.02 -1.99 2.06" y="0" font-size="14.30" font-weight="bold" fill="#000" stroke="#000" stroke-width="0.374">0.2</text>
<line x1="352.60" y1="397.20" x2="352.60" y2="400.20" stroke="#6a6a6a" stroke-width="1"/>
<text transform="translate(352.60,413.90) scale(1.2037,1)" x="-10.02 -1.99 2.06" y="0" font-size="14.30" font-weight="bold" fill="#000" stroke="#000" stroke-width="0.374">0.4</text>
<line x1="383.70" y1="397.20" x2="383.70" y2="400.20" stroke="#6a6a6a" stroke-width="1"/>
<text transform="translate(383.70,413.90) scale(1.2037,1)" x="-10.02 -1.99 2.06" y="0" font-size="14.30" font-weight="bold" fill="#000" stroke="#000" stroke-width="0.374">0.6</text>
<line x1="414.80" y1="397.20" x2="414.80" y2="400.20" stroke="#6a6a6a" stroke-width="1"/>
<text transform="translate(414.80,413.90) scale(1.2037,1)" x="-10.02 -1.99 2.06" y="0" font-size="14.30" font-weight="bold" fill="#000" stroke="#000" stroke-width="0.374">0.8</text>
<line x1="445.90" y1="397.20" x2="445.90" y2="400.20" stroke="#6a6a6a" stroke-width="1"/>
<text transform="translate(445.90,413.90) scale(1.2037,1)" x="-10.02 -1.99 2.06" y="0" font-size="14.30" font-weight="bold" fill="#000" stroke="#000" stroke-width="0.374">1.0</text>
<line x1="477.00" y1="397.20" x2="477.00" y2="400.20" stroke="#6a6a6a" stroke-width="1"/>
<text transform="translate(477.00,413.90) scale(1.2037,1)" x="-10.02 -1.99 2.06" y="0" font-size="14.30" font-weight="bold" fill="#000" stroke="#000" stroke-width="0.374">1.2</text>
<line x1="50.90" y1="851.50" x2="50.90" y2="854.50" stroke="#6a6a6a" stroke-width="1"/>
<text transform="translate(50.90,867.60) scale(1.2037,1)" x="-10.02 -1.99 2.06" y="0" font-size="14.30" font-weight="bold" fill="#000" stroke="#000" stroke-width="0.374">0.0</text>
<line x1="82.00" y1="851.50" x2="82.00" y2="854.50" stroke="#6a6a6a" stroke-width="1"/>
<text transform="translate(82.00,867.60) scale(1.2037,1)" x="-10.02 -1.99 2.06" y="0" font-size="14.30" font-weight="bold" fill="#000" stroke="#000" stroke-width="0.374">0.2</text>
<line x1="113.10" y1="851.50" x2="113.10" y2="854.50" stroke="#6a6a6a" stroke-width="1"/>
<text transform="translate(113.10,867.60) scale(1.2037,1)" x="-10.02 -1.99 2.06" y="0" font-size="14.30" font-weight="bold" fill="#000" stroke="#000" stroke-width="0.374">0.4</text>
<line x1="144.20" y1="851.50" x2="144.20" y2="854.50" stroke="#6a6a6a" stroke-width="1"/>
<text transform="translate(144.20,867.60) scale(1.2037,1)" x="-10.02 -1.99 2.06" y="0" font-size="14.30" font-weight="bold" fill="#000" stroke="#000" stroke-width="0.374">0.6</text>
<line x1="175.30" y1="851.50" x2="175.30" y2="854.50" stroke="#6a6a6a" stroke-width="1"/>
<text transform="translate(175.30,867.60) scale(1.2037,1)" x="-10.02 -1.99 2.06" y="0" font-size="14.30" font-weight="bold" fill="#000" stroke="#000" stroke-width="0.374">0.8</text>
<line x1="206.40" y1="851.50" x2="206.40" y2="854.50" stroke="#6a6a6a" stroke-width="1"/>
<text transform="translate(206.40,867.60) scale(1.2037,1)" x="-10.02 -1.99 2.06" y="0" font-size="14.30" font-weight="bold" fill="#000" stroke="#000" stroke-width="0.374">1.0</text>
<line x1="237.50" y1="851.50" x2="237.50" y2="854.50" stroke="#6a6a6a" stroke-width="1"/>
<text transform="translate(237.50,867.60) scale(1.2037,1)" x="-10.02 -1.99 2.06" y="0" font-size="14.30" font-weight="bold" fill="#000" stroke="#000" stroke-width="0.374">1.2</text>
<line x1="290.60" y1="851.30" x2="290.60" y2="854.30" stroke="#6a6a6a" stroke-width="1"/>
<text transform="translate(290.60,867.60) scale(1.2037,1)" x="-10.02 -1.99 2.06" y="0" font-size="14.30" font-weight="bold" fill="#000" stroke="#000" stroke-width="0.374">0.0</text>
<line x1="321.70" y1="851.30" x2="321.70" y2="854.30" stroke="#6a6a6a" stroke-width="1"/>
<text transform="translate(321.70,867.60) scale(1.2037,1)" x="-10.02 -1.99 2.06" y="0" font-size="14.30" font-weight="bold" fill="#000" stroke="#000" stroke-width="0.374">0.2</text>
<line x1="352.80" y1="851.30" x2="352.80" y2="854.30" stroke="#6a6a6a" stroke-width="1"/>
<text transform="translate(352.80,867.60) scale(1.2037,1)" x="-10.02 -1.99 2.06" y="0" font-size="14.30" font-weight="bold" fill="#000" stroke="#000" stroke-width="0.374">0.4</text>
<line x1="383.90" y1="851.30" x2="383.90" y2="854.30" stroke="#6a6a6a" stroke-width="1"/>
<text transform="translate(383.90,867.60) scale(1.2037,1)" x="-10.02 -1.99 2.06" y="0" font-size="14.30" font-weight="bold" fill="#000" stroke="#000" stroke-width="0.374">0.6</text>
<line x1="415.00" y1="851.30" x2="415.00" y2="854.30" stroke="#6a6a6a" stroke-width="1"/>
<text transform="translate(415.00,867.60) scale(1.2037,1)" x="-10.02 -1.99 2.06" y="0" font-size="14.30" font-weight="bold" fill="#000" stroke="#000" stroke-width="0.374">0.8</text>
<line x1="446.10" y1="851.30" x2="446.10" y2="854.30" stroke="#6a6a6a" stroke-width="1"/>
<text transform="translate(446.10,867.60) scale(1.2037,1)" x="-10.02 -1.99 2.06" y="0" font-size="14.30" font-weight="bold" fill="#000" stroke="#000" stroke-width="0.374">1.0</text>
<line x1="477.20" y1="851.30" x2="477.20" y2="854.30" stroke="#6a6a6a" stroke-width="1"/>
<text transform="translate(477.20,867.60) scale(1.2037,1)" x="-10.02 -1.99 2.06" y="0" font-size="14.30" font-weight="bold" fill="#000" stroke="#000" stroke-width="0.374">1.2</text>
<line x1="47.80" y1="397.10" x2="50.80" y2="397.10" stroke="#6a6a6a" stroke-width="1"/>
<text transform="translate(44.40,402.50) scale(1.2037,1)" x="-19.96 -11.93 -7.88" y="0" font-size="14.30" font-weight="bold" fill="#000" stroke="#000" stroke-width="0.374">0.0</text>
<line x1="47.80" y1="376.35" x2="50.80" y2="376.35" stroke="#6a6a6a" stroke-width="1"/>
<text transform="translate(44.40,381.75) scale(1.2037,1)" x="-19.96 -11.93 -7.88" y="0" font-size="14.30" font-weight="bold" fill="#000" stroke="#000" stroke-width="0.374">0.2</text>
<line x1="47.80" y1="355.60" x2="50.80" y2="355.60" stroke="#6a6a6a" stroke-width="1"/>
<text transform="translate(44.40,361.00) scale(1.2037,1)" x="-19.96 -11.93 -7.88" y="0" font-size="14.30" font-weight="bold" fill="#000" stroke="#000" stroke-width="0.374">0.4</text>
<line x1="47.80" y1="334.85" x2="50.80" y2="334.85" stroke="#6a6a6a" stroke-width="1"/>
<text transform="translate(44.40,340.25) scale(1.2037,1)" x="-19.96 -11.93 -7.88" y="0" font-size="14.30" font-weight="bold" fill="#000" stroke="#000" stroke-width="0.374">0.6</text>
<line x1="47.80" y1="314.10" x2="50.80" y2="314.10" stroke="#6a6a6a" stroke-width="1"/>
<text transform="translate(44.40,319.50) scale(1.2037,1)" x="-19.96 -11.93 -7.88" y="0" font-size="14.30" font-weight="bold" fill="#000" stroke="#000" stroke-width="0.374">0.8</text>
<line x1="47.80" y1="293.35" x2="50.80" y2="293.35" stroke="#6a6a6a" stroke-width="1"/>
<text transform="translate(44.40,298.75) scale(1.2037,1)" x="-19.96 -11.93 -7.88" y="0" font-size="14.30" font-weight="bold" fill="#000" stroke="#000" stroke-width="0.374">1.0</text>
<line x1="47.80" y1="272.60" x2="50.80" y2="272.60" stroke="#6a6a6a" stroke-width="1"/>
<text transform="translate(44.40,278.00) scale(1.2037,1)" x="-19.96 -11.93 -7.88" y="0" font-size="14.30" font-weight="bold" fill="#000" stroke="#000" stroke-width="0.374">1.2</text>
<line x1="47.80" y1="251.85" x2="50.80" y2="251.85" stroke="#6a6a6a" stroke-width="1"/>
<text transform="translate(44.40,257.25) scale(1.2037,1)" x="-19.96 -11.93 -7.88" y="0" font-size="14.30" font-weight="bold" fill="#000" stroke="#000" stroke-width="0.374">1.4</text>
<line x1="47.80" y1="231.10" x2="50.80" y2="231.10" stroke="#6a6a6a" stroke-width="1"/>
<text transform="translate(44.40,236.50) scale(1.2037,1)" x="-19.96 -11.93 -7.88" y="0" font-size="14.30" font-weight="bold" fill="#000" stroke="#000" stroke-width="0.374">1.6</text>
<line x1="47.80" y1="851.60" x2="50.80" y2="851.60" stroke="#6a6a6a" stroke-width="1"/>
<text transform="translate(44.50,857.00) scale(1.2037,1)" x="-19.96 -11.93 -7.88" y="0" font-size="14.30" font-weight="bold" fill="#000" stroke="#000" stroke-width="0.374">0.0</text>
<line x1="47.80" y1="822.56" x2="50.80" y2="822.56" stroke="#6a6a6a" stroke-width="1"/>
<text transform="translate(44.50,827.96) scale(1.2037,1)" x="-19.96 -11.93 -7.88" y="0" font-size="14.30" font-weight="bold" fill="#000" stroke="#000" stroke-width="0.374">0.2</text>
<line x1="47.80" y1="793.52" x2="50.80" y2="793.52" stroke="#6a6a6a" stroke-width="1"/>
<text transform="translate(44.50,798.92) scale(1.2037,1)" x="-19.96 -11.93 -7.88" y="0" font-size="14.30" font-weight="bold" fill="#000" stroke="#000" stroke-width="0.374">0.4</text>
<line x1="47.80" y1="764.48" x2="50.80" y2="764.48" stroke="#6a6a6a" stroke-width="1"/>
<text transform="translate(44.50,769.88) scale(1.2037,1)" x="-19.96 -11.93 -7.88" y="0" font-size="14.30" font-weight="bold" fill="#000" stroke="#000" stroke-width="0.374">0.6</text>
<line x1="47.80" y1="735.44" x2="50.80" y2="735.44" stroke="#6a6a6a" stroke-width="1"/>
<text transform="translate(44.50,740.84) scale(1.2037,1)" x="-19.96 -11.93 -7.88" y="0" font-size="14.30" font-weight="bold" fill="#000" stroke="#000" stroke-width="0.374">0.8</text>
<line x1="47.80" y1="706.40" x2="50.80" y2="706.40" stroke="#6a6a6a" stroke-width="1"/>
<text transform="translate(44.50,711.80) scale(1.2037,1)" x="-19.96 -11.93 -7.88" y="0" font-size="14.30" font-weight="bold" fill="#000" stroke="#000" stroke-width="0.374">1.0</text>
<line x1="508.50" y1="397.40" x2="511.50" y2="397.40" stroke="#6a6a6a" stroke-width="1"/>
<text transform="translate(513.80,402.80) scale(1.1811,1)" x="0.00" y="0" font-size="14.30" font-weight="bold" fill="#000" stroke="#000" stroke-width="0.381">0</text>
<line x1="508.50" y1="365.00" x2="511.50" y2="365.00" stroke="#6a6a6a" stroke-width="1"/>
<text transform="translate(513.80,370.40) scale(1.1811,1)" x="0.00" y="0" font-size="14.30" font-weight="bold" fill="#000" stroke="#000" stroke-width="0.381">5</text>
<line x1="508.50" y1="332.60" x2="511.50" y2="332.60" stroke="#6a6a6a" stroke-width="1"/>
<text transform="translate(513.80,338.00) scale(1.1811,1)" x="0.00 7.96" y="0" font-size="14.30" font-weight="bold" fill="#000" stroke="#000" stroke-width="0.381">10</text>
<line x1="508.50" y1="300.20" x2="511.50" y2="300.20" stroke="#6a6a6a" stroke-width="1"/>
<text transform="translate(513.80,305.60) scale(1.1811,1)" x="0.00 7.96" y="0" font-size="14.30" font-weight="bold" fill="#000" stroke="#000" stroke-width="0.381">15</text>
<line x1="508.50" y1="267.80" x2="511.50" y2="267.80" stroke="#6a6a6a" stroke-width="1"/>
<text transform="translate(513.80,273.20) scale(1.1811,1)" x="0.00 7.96" y="0" font-size="14.30" font-weight="bold" fill="#000" stroke="#000" stroke-width="0.381">20</text>
<line x1="508.50" y1="235.40" x2="511.50" y2="235.40" stroke="#6a6a6a" stroke-width="1"/>
<text transform="translate(513.80,240.80) scale(1.1811,1)" x="0.00 7.96" y="0" font-size="14.30" font-weight="bold" fill="#000" stroke="#000" stroke-width="0.381">25</text>
<line x1="508.30" y1="851.20" x2="511.30" y2="851.20" stroke="#6a6a6a" stroke-width="1"/>
<text transform="translate(513.80,856.60) scale(1.1811,1)" x="0.00" y="0" font-size="14.30" font-weight="bold" fill="#000" stroke="#000" stroke-width="0.381">0</text>
<line x1="508.30" y1="824.80" x2="511.30" y2="824.80" stroke="#6a6a6a" stroke-width="1"/>
<text transform="translate(513.80,830.20) scale(1.1811,1)" x="0.00" y="0" font-size="14.30" font-weight="bold" fill="#000" stroke="#000" stroke-width="0.381">2</text>
<line x1="508.30" y1="798.40" x2="511.30" y2="798.40" stroke="#6a6a6a" stroke-width="1"/>
<text transform="translate(513.80,803.80) scale(1.1811,1)" x="0.00" y="0" font-size="14.30" font-weight="bold" fill="#000" stroke="#000" stroke-width="0.381">4</text>
<line x1="508.30" y1="772.00" x2="511.30" y2="772.00" stroke="#6a6a6a" stroke-width="1"/>
<text transform="translate(513.80,777.40) scale(1.1811,1)" x="0.00" y="0" font-size="14.30" font-weight="bold" fill="#000" stroke="#000" stroke-width="0.381">6</text>
<line x1="508.30" y1="745.60" x2="511.30" y2="745.60" stroke="#6a6a6a" stroke-width="1"/>
<text transform="translate(513.80,751.00) scale(1.1811,1)" x="0.00" y="0" font-size="14.30" font-weight="bold" fill="#000" stroke="#000" stroke-width="0.381">8</text>
<line x1="508.30" y1="719.20" x2="511.30" y2="719.20" stroke="#6a6a6a" stroke-width="1"/>
<text transform="translate(513.80,724.60) scale(1.1811,1)" x="0.00 7.96" y="0" font-size="14.30" font-weight="bold" fill="#000" stroke="#000" stroke-width="0.381">10</text>
<line x1="508.30" y1="692.80" x2="511.30" y2="692.80" stroke="#6a6a6a" stroke-width="1"/>
<text transform="translate(513.80,698.20) scale(1.1811,1)" x="0.00 7.96" y="0" font-size="14.30" font-weight="bold" fill="#000" stroke="#000" stroke-width="0.381">12</text>
<text transform="translate(159.60,219.60) scale(1.1407,1)" x="-60.62 -50.39 -40.70 -31.91 -23.72 -14.28 -9.27 0.28 4.62 13.16 21.70 30.25 38.79 47.46 52.01" y="0" font-size="14.83" font-weight="bold" fill="#000" stroke="#000" stroke-width="0.394">NDETS = 30000.0</text>
<text transform="translate(399.40,219.60) scale(1.1407,1)" x="-60.62 -50.39 -40.70 -31.91 -23.72 -14.28 -9.27 0.28 4.62 13.16 21.70 30.25 38.79 47.46 52.01" y="0" font-size="14.83" font-weight="bold" fill="#000" stroke="#000" stroke-width="0.394">NDETS = 10000.0</text>
<text transform="translate(159.60,673.10) scale(1.1407,1)" x="-60.62 -50.39 -40.70 -31.91 -23.72 -14.28 -9.27 0.28 4.62 13.16 21.70 30.25 38.79 47.46 52.01" y="0" font-size="14.83" font-weight="bold" fill="#000" stroke="#000" stroke-width="0.394">NDETS = 30000.0</text>
<text transform="translate(399.40,673.10) scale(1.1407,1)" x="-60.62 -50.39 -40.70 -31.91 -23.72 -14.28 -9.27 0.28 4.62 13.16 21.70 30.25 38.79 47.46 52.01" y="0" font-size="14.83" font-weight="bold" fill="#000" stroke="#000" stroke-width="0.394">NDETS = 10000.0</text>
<text transform="translate(275.60,440.20) scale(1.0470,1)" x="-91.25 -81.86 -71.68 -60.03 -49.51 -39.62 -34.69 -29.90 -19.40 -8.71 -3.97 6.56 16.31 27.29 36.65 40.86 51.63 62.30 73.29 81.69" y="0" font-size="14.83" font-weight="bold" fill="#000" stroke="#000" stroke-width="0.430">PCODE/INCIDENT ANGLE</text>
<text transform="translate(275.60,894.70) scale(1.0470,1)" x="-91.25 -81.86 -71.68 -60.03 -49.51 -39.62 -34.69 -29.90 -19.40 -8.71 -3.97 6.56 16.31 27.29 36.65 40.86 51.63 62.30 73.29 81.69" y="0" font-size="14.83" font-weight="bold" fill="#000" stroke="#000" stroke-width="0.430">PCODE/INCIDENT ANGLE</text>
<text transform="translate(547.00,312.40) rotate(-90) scale(1.1324,1)" x="-32.47 -23.55 -14.94 -6.42 -1.86 2.99 10.86 18.72 26.86" y="0" font-size="14.83" font-weight="bold" fill="#000" stroke="#000" stroke-width="0.397">T90 (sec)</text>
<text transform="translate(547.00,765.00) rotate(-90) scale(1.1324,1)" x="-32.47 -23.55 -14.94 -6.42 -1.86 2.99 10.86 18.72 26.86" y="0" font-size="14.83" font-weight="bold" fill="#000" stroke="#000" stroke-width="0.397">T90 (sec)</text>
<text transform="translate(12.30,361.00) rotate(-90) scale(1.1281,1)" x="-0.31 8.20 16.41" y="0" font-size="14.20" font-weight="bold" fill="#000" stroke="#000" stroke-width="0.399">T90</text>
<text transform="translate(15.30,333.20) rotate(-90) scale(0.8344,1)" x="-0.22 4.76 7.24" y="0" font-size="10.17" font-weight="normal" font-style="italic" fill="#000">sim</text>
<text transform="translate(12.30,320.00) rotate(-90) scale(1.4255,1)" x="0.15 3.89 12.30 20.41" y="0" font-size="14.20" font-weight="bold" fill="#000" stroke="#000" stroke-width="0.316">/T90</text>
<text transform="translate(15.30,279.30) rotate(-90) scale(1.1296,1)" x="0.26 3.41 6.74 12.07" y="0" font-size="10.17" font-weight="normal" font-style="italic" fill="#000">true</text>
<text transform="translate(12.30,814.80) rotate(-90) scale(1.1281,1)" x="-0.31 8.20 16.41" y="0" font-size="14.20" font-weight="bold" fill="#000" stroke="#000" stroke-width="0.399">T90</text>
<text transform="translate(15.30,787.00) rotate(-90) scale(0.8344,1)" x="-0.22 4.76 7.24" y="0" font-size="10.17" font-weight="normal" font-style="italic" fill="#000">sim</text>
<text transform="translate(12.30,773.80) rotate(-90) scale(1.4255,1)" x="0.15 3.89 12.30 20.41" y="0" font-size="14.20" font-weight="bold" fill="#000" stroke="#000" stroke-width="0.316">/T90</text>
<text transform="translate(15.30,733.10) rotate(-90) scale(1.1296,1)" x="0.26 3.41 6.74 12.07" y="0" font-size="10.17" font-weight="normal" font-style="italic" fill="#000">true</text>
</svg>
</body></html>
